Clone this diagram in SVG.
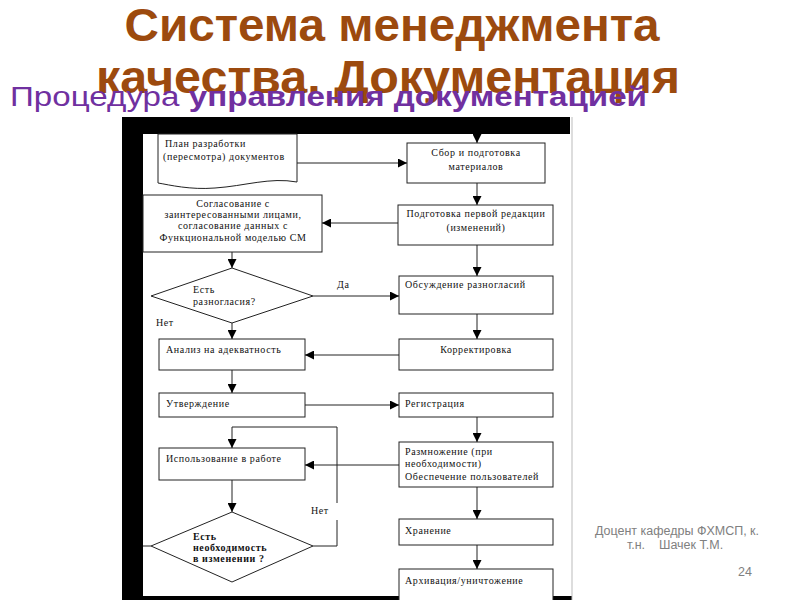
<svg xmlns="http://www.w3.org/2000/svg" width="800" height="600" viewBox="0 0 800 600">
<defs>
<marker id="ah" viewBox="0 0 10 10" refX="10" refY="5" markerWidth="9" markerHeight="9" markerUnits="userSpaceOnUse" orient="auto">
<path d="M0,0 L10,5 L0,10 Z" fill="#000"/>
</marker>
<style>
.t1{font-family:"Liberation Sans",Arial,sans-serif;font-weight:bold;font-size:47px;fill:#9C4A0E;text-anchor:middle}
.sub{font-family:"Liberation Sans",Arial,sans-serif;font-size:27px;fill:#7030A0}
.box{fill:#fff;stroke:#222;stroke-width:1}
.lbl{font-family:"Liberation Serif","Times New Roman",serif;font-size:10px;letter-spacing:0.6px;fill:#111}
.c{text-anchor:middle}
.b{font-weight:bold}
.ln{fill:none;stroke:#222;stroke-width:1}
.ar{fill:none;stroke:#222;stroke-width:1;marker-end:url(#ah)}
.ft{font-family:"Liberation Sans",Arial,sans-serif;font-size:12.5px;fill:#808080;text-anchor:middle}
</style>
</defs>
<rect width="800" height="600" fill="#fff"/>
<g id="title">
<text class="t1" x="392" y="41" textLength="535" lengthAdjust="spacingAndGlyphs">Система менеджмента</text>
<text class="t1" x="388" y="93" textLength="584" lengthAdjust="spacingAndGlyphs">качества. Документация</text>
<text class="sub" x="10" y="106" textLength="637" lengthAdjust="spacingAndGlyphs">Процедура <tspan font-weight="bold">управления документацией</tspan></text>
</g>
<g id="frame">
<rect x="122" y="117" width="448" height="17" fill="#000"/>
<rect x="122" y="117" width="21" height="483" fill="#000"/>
<rect x="122" y="596" width="450" height="4" fill="#000"/>
<line x1="572" y1="117" x2="572" y2="600" stroke="#bbb" stroke-width="1"/>
</g>
<g id="n-plan">
<path class="box" d="M158,134 H297 V182 C270,177 245,186 215,188 C190,190 170,185 158,183 Z"/>
<text class="lbl" x="165" y="147">План разработки</text>
<text class="lbl" x="163" y="160">(пересмотра) документов</text>
</g>
<g id="n-sbor">
<rect class="box" x="407" y="143" width="138" height="40"/>
<text class="lbl c" x="476" y="156">Сбор и подготовка</text>
<text class="lbl c" x="476" y="170">материалов</text>
</g>
<g id="n-podg">
<rect class="box" x="398" y="205" width="155" height="40"/>
<text class="lbl c" x="476" y="217">Подготовка первой редакции</text>
<text class="lbl c" x="476" y="231">(изменений)</text>
</g>
<g id="n-sogl">
<rect class="box" x="143" y="195" width="179" height="57"/>
<text class="lbl c" x="233" y="207">Согласование с</text>
<text class="lbl c" x="233" y="218">заинтересованными лицами,</text>
<text class="lbl c" x="233" y="229">согласование данных с</text>
<text class="lbl c" x="233" y="241">Функциональной моделью СМ</text>
</g>
<g id="n-razn">
<polygon class="box" points="232,268 313,296 232,323 151,296"/>
<text class="lbl" x="193" y="293">Есть</text>
<text class="lbl" x="193" y="305">разногласия?</text>
</g>
<g id="n-obs">
<rect class="box" x="399" y="276" width="154" height="38"/>
<text class="lbl" x="405" y="288">Обсуждение разногласий</text>
</g>
<g id="n-anal">
<rect class="box" x="159" y="339" width="146" height="31"/>
<text class="lbl" x="166" y="353">Анализ на адекватность</text>
</g>
<g id="n-korr">
<rect class="box" x="399" y="339" width="154" height="31"/>
<text class="lbl c" x="476" y="353">Корректировка</text>
</g>
<g id="n-utv">
<rect class="box" x="159" y="393" width="146" height="24"/>
<text class="lbl" x="166" y="407">Утверждение</text>
</g>
<g id="n-reg">
<rect class="box" x="399" y="393" width="154" height="24"/>
<text class="lbl" x="405" y="407">Регистрация</text>
</g>
<g id="n-razm">
<rect class="box" x="399" y="442" width="154" height="45"/>
<text class="lbl" x="405" y="455">Размножение (при</text>
<text class="lbl" x="405" y="467">необходимости)</text>
<text class="lbl" x="405" y="480">Обеспечение пользователей</text>
</g>
<g id="n-isp">
<rect class="box" x="159" y="448" width="146" height="32"/>
<text class="lbl" x="166" y="462">Использование в работе</text>
</g>
<g id="n-neob">
<polygon class="box" points="232,512 313,546 232,582 151,546"/>
<text class="lbl b" x="193" y="540">Есть</text>
<text class="lbl b" x="193" y="551">необходимость</text>
<text class="lbl b" x="193" y="562">в изменении ?</text>
</g>
<g id="n-hran">
<rect class="box" x="399" y="519" width="154" height="26"/>
<text class="lbl" x="405" y="534">Хранение</text>
</g>
<g id="n-arh">
<rect class="box" x="399" y="569" width="154" height="40"/>
<text class="lbl" x="405" y="584">Архивация/уничтожение</text>
</g>
<g id="connectors">
<path class="ar" d="M477,134 V143"/>
<path class="ar" d="M297,163 H407"/>
<path class="ar" d="M477,183 V205"/>
<path class="ar" d="M398,223 H322"/>
<path class="ar" d="M232,252 V268"/>
<path class="ar" d="M313,296 H399"/>
<path class="ar" d="M477,245 V276"/>
<path class="ar" d="M232,323 V339"/>
<path class="ar" d="M477,314 V339"/>
<path class="ar" d="M399,355 H305"/>
<path class="ar" d="M232,370 V393"/>
<path class="ar" d="M305,405 H399"/>
<path class="ar" d="M477,417 V442"/>
<path class="ar" d="M399,465 H305"/>
<path class="ar" d="M337,503 V427 H232 V448"/>
<path class="ln" d="M313,546 H337 V520"/>
<path class="ar" d="M232,480 V512"/>
<path class="ln" d="M151,546 H143"/>
<path class="ar" d="M477,487 V519"/>
<path class="ar" d="M477,545 V569"/>
<text class="lbl" x="337" y="288">Да</text>
<text class="lbl" x="156" y="326">Нет</text>
<text class="lbl" x="311" y="514">Нет</text>
</g>
<g id="footer">
<text class="ft" x="677" y="535">Доцент кафедры ФХМСП, к.</text>
<text class="ft" x="675" y="549" xml:space="preserve">т.н.    Шачек Т.М.</text>
<text class="ft" x="745" y="576">24</text>
</g>
</svg>
